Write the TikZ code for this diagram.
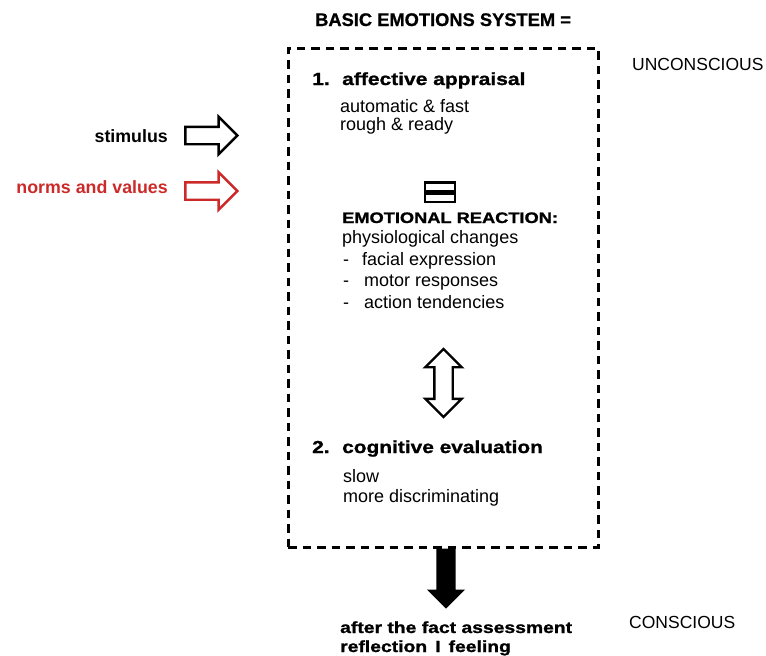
\documentclass[tikz,border=0pt]{standalone}
\usepackage{fontspec}
\setmainfont{Liberation Sans}
\newfontfamily\heavyfont[FakeStretch=1.2,FakeBold=1.2]{Liberation Sans Bold}
\newfontfamily\titlefont[FakeBold=0.8]{Liberation Sans Bold}
\usepackage{xcolor}
\usepackage{tikz}
\usetikzlibrary{positioning,shapes.arrows}
\definecolor{normred}{RGB}{204,41,41}

\begin{document}
\begin{tikzpicture}[x=1pt,y=-1pt]
    \tikzstyle{txt} = [anchor=base west, inner sep=0pt, text=black]
    \tikzstyle{plain} = [txt, font=\fontsize{18}{21}\selectfont]
    \tikzstyle{head} = [txt, font=\heavyfont\fontsize{17.5}{21}\selectfont]
    \tikzstyle{small} = [txt, font=\heavyfont\fontsize{15.2}{19}\selectfont]
    \tikzstyle{side} = [txt, font=\fontsize{17.5}{21}\selectfont]
    \tikzstyle{blockarr} = [single arrow, draw, line width=2.4pt,
    inner xsep=0pt, inner ysep=7.5pt, single arrow head indent=0pt]
    \useasboundingbox (0,0) rectangle (766,656);
    % title and sides
    \node[txt, font=\titlefont\fontsize{18.3}{22}\selectfont] (title) at
    (315,26) {BASIC EMOTIONS SYSTEM =}; \node[side] (unc) at (632,70)
    {UNCONSCIOUS}; \node[side] (con) at (629,628) {CONSCIOUS};
    % the system box
    \node[draw, line width=3pt, dash pattern=on 8.5pt off 6pt,
    minimum width=310, minimum height=499, inner sep=0pt] (sys) at
    (443,297.5) {};
    % inputs
    \node[txt, anchor=base east, font=\bfseries\fontsize{17.8}{21}\selectfont]
    (stim) at (168,142) {stimulus}; \node[txt, anchor=base east,
    text=normred, font=\bfseries\fontsize{17.8}{21}\selectfont] (norm)
    at (168,193) {norms and values};
    \node[blockarr, minimum height=52, minimum width=35,
    single arrow head extend=10] (sa) at (207,135.5) {};
    \node[blockarr, draw=normred, minimum height=52, minimum width=35,
    single arrow head extend=10] (na) at (207,191) {};
    % 1. affective appraisal
    \node[head] (n1) at (312,85) {1.}; \node[head] (aff) at (342,85)
    {affective appraisal}; \node[plain] (af1) at (340,112) {automatic \&
    fast}; \node[plain] (af2) at (340,130) {rough \& ready};
    % equals sign
    \draw[line width=2.4pt] (425,182.5) rectangle (455,191)
    (425,193.5) rectangle (455,202);
    % emotional reaction
    \node[small] (emo) at (342,223) {EMOTIONAL REACTION:};
    \node[plain] (phy) at (342,243) {physiological changes};
    \foreach \y/\x/\t in {265/362/facial expression,286/364/motor
      responses,308/364/action tendencies}{ \node[plain] at (343,\y)
      {-}; \node[plain] at (\x,\y) {\t}; }
    % two way arrow
    \node[double arrow, draw, line width=2.4pt, inner xsep=0pt,
    inner ysep=8pt, minimum height=68, minimum width=35,
    double arrow head extend=9, double arrow head indent=0pt,
    rotate=90] (dbl) at (443.5,383) {};
    % 2. cognitive evaluation
    \node[head, font=\heavyfont\fontsize{17.4}{21}\selectfont] (n2) at
    (312,453) {2.}; \node[head, font=\heavyfont\fontsize{17.4}{21}\selectfont]
    (cog) at (342,453) {cognitive evaluation}; \node[plain] (cg1) at
    (343,482) {slow}; \node[plain] (cg2) at (343,502) {more
    discriminating};
    % output
    \node[single arrow, fill=black, inner xsep=0pt, inner ysep=9.5pt,
    minimum height=60, minimum width=38, single arrow head extend=9.5,
    single arrow head indent=0pt, rotate=-90, anchor=tail] (out) at
    ([xshift=3]sys.south) {};
    \node[small, font=\heavyfont\fontsize{16.1}{19}\selectfont] (aft) at
    (340,633) {after the fact assessment}; \node[small,
    font=\heavyfont\fontsize{16.1}{19}\selectfont] (ref) at (340,652)
    {reflection\enspace I\enspace feeling};
  \end{tikzpicture}
\end{document}
